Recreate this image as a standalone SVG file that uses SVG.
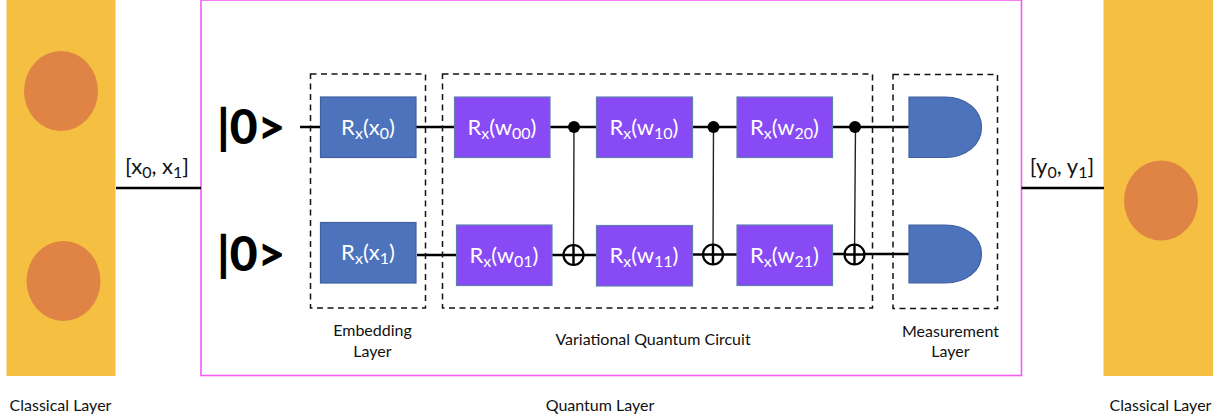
<svg xmlns="http://www.w3.org/2000/svg" width="1224" height="419" viewBox="0 0 1224 419">
<style>
text{font-family:Lato,"Open Sans","Liberation Sans",sans-serif;fill:#111}
.cap{font-size:16px;text-anchor:middle}
.gate{font-size:22px;fill:#fff;text-anchor:middle}
.io{font-size:22px;text-anchor:middle}
.ket{font-size:48px;font-weight:900;fill:#000}
.sub{font-size:16px}
.classical{fill:#f5bf42}
.neuron{fill:#e08445}
.blue{fill:#4d73bc;stroke:#40619e;stroke-width:1.2}
.purple{fill:#874af5;stroke:#5f7fb0;stroke-width:1.2}
.dash{fill:none;stroke:#111;stroke-width:1.5;stroke-dasharray:6 4.5}
.wire{stroke:#000;stroke-width:2.4;fill:none}
.thin{stroke:#222;stroke-width:1.4;fill:none}
.oplus{fill:#fff;stroke:#000;stroke-width:2.2}
</style>
<g id="classical-left">
<rect class="classical" x="6.500" y="0" width="109" height="376"/>
<ellipse class="neuron" cx="61" cy="91" rx="37" ry="40"/>
<ellipse class="neuron" cx="63.500" cy="281" rx="37" ry="40"/>
<text class="cap" x="60.500" y="411">Classical Layer</text>
</g>
<g id="classical-right">
<rect class="classical" x="1103.500" y="0" width="109.500" height="376"/>
<ellipse class="neuron" cx="1161" cy="200.500" rx="37" ry="40"/>
<text class="cap" x="1160.500" y="411">Classical Layer</text>
</g>
<g id="quantum-layer">
<rect x="201" y="0" width="820.500" height="375.500" fill="#fff" stroke="#f25cf5" stroke-width="1.600"/>
<text class="cap" x="600" y="411">Quantum Layer</text>
</g>
<g id="connectors">
<path class="wire" d="M116 188H201M1021.500 188H1104"/>
<path class="wire" d="M300 127H321M416 127H455M550 127H597M692 127H737M832 127H910"/>
<path class="wire" d="M417 255H457M552 255H597M692 254.500H737M832 254H910"/>
<path class="thin" d="M574 127L573.500 255M713.500 127L713 255M855.500 127L854.500 255"/>
</g>
<g id="ket-0"><text class="ket" x="217" y="144">|0&gt;</text></g>
<g id="ket-1"><text class="ket" x="217" y="271">|0&gt;</text></g>
<g id="embedding-layer">
<rect class="dash" x="310.500" y="74" width="115" height="234"/>
<text class="cap" x="372.500" y="336">Embedding</text>
<text class="cap" x="372.500" y="356.500">Layer</text>
</g>
<g id="variational-circuit">
<rect class="dash" x="442.500" y="74" width="430" height="234"/>
<text class="cap" x="653" y="345">Variational Quantum Circuit</text>
</g>
<g id="measurement-layer">
<rect class="dash" x="893" y="74.500" width="104.500" height="234"/>
<text class="cap" x="950.500" y="336.500">Measurement</text>
<text class="cap" x="950.500" y="356.500">Layer</text>
</g>
<g id="rx-x0"><rect class="blue" x="320.500" y="97" width="95.500" height="60.500"/><text class="gate" x="368" y="135">R<tspan class="sub" dy="4">x</tspan><tspan dy="-4">(x</tspan><tspan class="sub" dy="4">0</tspan><tspan dy="-4">)</tspan></text></g>
<g id="rx-x1"><rect class="blue" x="320.500" y="222.500" width="95.500" height="60.500"/><text class="gate" x="368" y="260">R<tspan class="sub" dy="4">x</tspan><tspan dy="-4">(x</tspan><tspan class="sub" dy="4">1</tspan><tspan dy="-4">)</tspan></text></g>
<g id="rx-w00"><rect class="purple" x="454.500" y="97" width="95.500" height="60.500"/><text class="gate" x="502" y="135">R<tspan class="sub" dy="4">x</tspan><tspan dy="-4">(w</tspan><tspan class="sub" dy="4">00</tspan><tspan dy="-4">)</tspan></text></g>
<g id="rx-w01"><rect class="purple" x="456.500" y="225" width="95.500" height="60.500"/><text class="gate" x="504" y="262.500">R<tspan class="sub" dy="4">x</tspan><tspan dy="-4">(w</tspan><tspan class="sub" dy="4">01</tspan><tspan dy="-4">)</tspan></text></g>
<g id="rx-w10"><rect class="purple" x="596.500" y="97" width="96" height="60.500"/><text class="gate" x="644" y="135">R<tspan class="sub" dy="4">x</tspan><tspan dy="-4">(w</tspan><tspan class="sub" dy="4">10</tspan><tspan dy="-4">)</tspan></text></g>
<g id="rx-w11"><rect class="purple" x="596.500" y="225.500" width="96" height="60.500"/><text class="gate" x="644" y="262.500">R<tspan class="sub" dy="4">x</tspan><tspan dy="-4">(w</tspan><tspan class="sub" dy="4">11</tspan><tspan dy="-4">)</tspan></text></g>
<g id="rx-w20"><rect class="purple" x="737" y="97" width="95.500" height="60.500"/><text class="gate" x="784.500" y="135">R<tspan class="sub" dy="4">x</tspan><tspan dy="-4">(w</tspan><tspan class="sub" dy="4">20</tspan><tspan dy="-4">)</tspan></text></g>
<g id="rx-w21"><rect class="purple" x="737" y="225" width="95.500" height="60.500"/><text class="gate" x="784.500" y="262.500">R<tspan class="sub" dy="4">x</tspan><tspan dy="-4">(w</tspan><tspan class="sub" dy="4">21</tspan><tspan dy="-4">)</tspan></text></g>
<g id="cnot-0"><circle cx="574" cy="127" r="6" fill="#000"/><circle class="oplus" cx="573.500" cy="255" r="10"/><path class="wire" d="M563.500 255H583.500M573.500 245V265"/></g>
<g id="cnot-1"><circle cx="713.500" cy="127" r="6" fill="#000"/><circle class="oplus" cx="713" cy="254.500" r="10"/><path class="wire" d="M703 254.500H723M713 244.500V264.500"/></g>
<g id="cnot-2"><circle cx="855" cy="127" r="6" fill="#000"/><circle class="oplus" cx="854.500" cy="254.500" r="10"/><path class="wire" d="M844.500 254.500H864.500M854.500 244.500V264.500"/></g>
<g id="measure-0"><path class="blue" d="M909 97H945C966 97 981.500 110 981.500 127.200C981.500 144.500 966 157.500 945 157.500H909Z"/></g>
<g id="measure-1"><path class="blue" d="M909 225H945C966 225 981.500 237 981.500 254C981.500 271 966 283 945 283H909Z"/></g>
<g id="io-labels">
<text class="io" x="157" y="174">[x<tspan class="sub" dy="4">0</tspan><tspan dy="-4">, x</tspan><tspan class="sub" dy="4">1</tspan><tspan dy="-4">]</tspan></text>
<text class="io" x="1062" y="174">[y<tspan class="sub" dy="4">0</tspan><tspan dy="-4">, y</tspan><tspan class="sub" dy="4">1</tspan><tspan dy="-4">]</tspan></text>
</g>
</svg>
